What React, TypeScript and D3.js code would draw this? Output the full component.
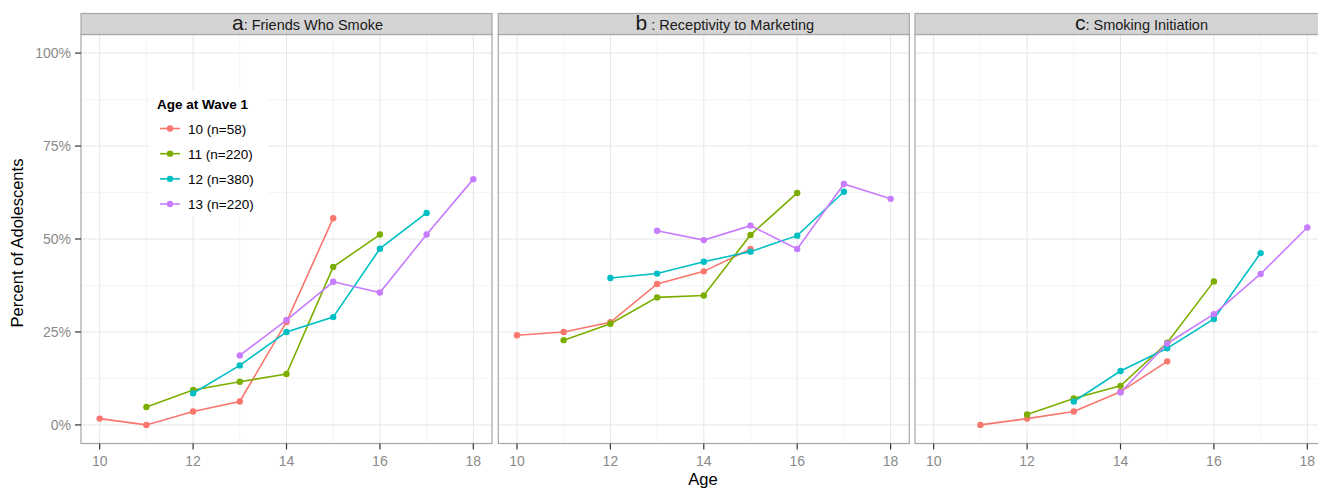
import React from 'react';
import * as d3 from 'd3';

// facet labels
const panelLetters = ['a', 'b', 'c'];
const panelTitles = [': Friends Who Smoke', ' : Receptivity to Marketing', ': Smoking Initiation'];

// legend groups
const groupLabels = ['10 (n=58)', '11 (n=220)', '12 (n=380)', '13 (n=220)'];
const groupColors = ['#F8766D', '#7CAE00', '#00BFC4', '#C77CFF'];

// first age observed for each group, per panel
const startAgesA = [10, 11, 12, 13];
const startAgesB = [10, 11, 12, 13];
const startAgesC = [11, 12, 13, 14];

// percent values
const friendsSmoke = [
    [1.7, 0, 3.6, 6.3, 27.7, 55.6],
    [4.8, 9.4, 11.6, 13.7, 42.5, 51.2],
    [8.5, 16.0, 25.0, 29.0, 47.4, 57.0],
    [18.7, 28.2, 38.5, 35.6, 51.2, 66.1],
];
const receptivity = [
    [24.1, 25.0, 27.6, 37.9, 41.3, 47.3],
    [22.8, 27.2, 34.3, 34.8, 51.1, 62.4],
    [39.5, 40.7, 43.9, 46.6, 50.9, 62.7],
    [52.2, 49.7, 53.6, 47.3, 64.8, 60.8],
];
const initiation = [
    [0, 1.7, 3.6, 8.9, 17.1],
    [2.8, 7.1, 10.5, 22.1, 38.6],
    [6.3, 14.5, 20.6, 28.5, 46.2],
    [8.7, 21.9, 29.8, 40.6, 53.1],
];

const xTicks = [10, 12, 14, 16, 18];
const xMinor = [11, 13, 15, 17];
const yTicks = [0, 25, 50, 75, 100];
const yMinor = [12.5, 37.5, 62.5, 87.5];

const panelData = [
    { values: friendsSmoke, starts: startAgesA },
    { values: receptivity, starts: startAgesB },
    { values: initiation, starts: startAgesC },
];

const width = 1318, height = 490;
const panelLefts = [81, 498.3, 915];
const panelW = 411;
const stripTop = 13.5, bodyTop = 34.5, bodyBottom = 443.5;
const font = '"Liberation Sans", Arial, Helvetica, sans-serif';
const tickGrey = '#8a8a8a';

const y = d3.scaleLinear().domain([-5, 105]).range([bodyBottom, bodyTop]);

const Panel = ({ idx }: { idx: number }) => {
    const left = panelLefts[idx];
    const x = d3.scaleLinear().domain([9.6, 18.4]).range([left, left + panelW]);
    const { values, starts } = panelData[idx];
    const series = values.map((vals, g) => vals.map((v, i) => ({ age: starts[g] + i, v })));
    const line = d3.line<{ age: number; v: number }>().x(d => x(d.age)).y(d => y(d.v));

    return (
        <g>
            <rect x={left} y={bodyTop} width={panelW} height={bodyBottom - bodyTop} fill="#fff" />
            {yMinor.map(t => (
                <line key={'ym' + t} x1={left} x2={left + panelW} y1={y(t)} y2={y(t)} stroke="#f3f3f3" strokeWidth={0.8} />
            ))}
            {xMinor.map(t => (
                <line key={'xm' + t} x1={x(t)} x2={x(t)} y1={bodyTop} y2={bodyBottom} stroke="#f3f3f3" strokeWidth={0.8} />
            ))}
            {yTicks.map(t => (
                <line key={'y' + t} x1={left} x2={left + panelW} y1={y(t)} y2={y(t)} stroke="#e6e6e6" strokeWidth={1} />
            ))}
            {xTicks.map(t => (
                <line key={'x' + t} x1={x(t)} x2={x(t)} y1={bodyTop} y2={bodyBottom} stroke="#e6e6e6" strokeWidth={1} />
            ))}
            {series.map((s, g) => (
                <path key={'l' + g} d={line(s) || ''} fill="none" stroke={groupColors[g]} strokeWidth={1.6} />
            ))}
            {series.map((s, g) =>
                s.map(d => (
                    <circle key={'p' + g + '-' + d.age} cx={x(d.age)} cy={y(d.v)} r={3.2} fill={groupColors[g]} />
                ))
            )}
            <rect x={left} y={bodyTop} width={panelW} height={bodyBottom - bodyTop} fill="none" stroke="#a6a6a6" strokeWidth={1.2} />
            <rect x={left} y={stripTop} width={panelW} height={bodyTop - stripTop} fill="#d4d4d4" stroke="#a6a6a6" strokeWidth={1.2} />
            <text x={left + panelW / 2 + 21} y={30} textAnchor="middle" fontFamily={font} fill="#1a1a1a">
                <tspan fontSize={21}>{panelLetters[idx]}</tspan>
                <tspan fontSize={14.5}>{panelTitles[idx]}</tspan>
            </text>
            {xTicks.map(t => (
                <g key={'xt' + t}>
                    <line x1={x(t)} x2={x(t)} y1={bodyBottom} y2={bodyBottom + 6} stroke="#333" strokeWidth={1.2} />
                    <text x={x(t)} y={465.5} textAnchor="middle" fontFamily={font} fontSize={14} fill={tickGrey}>{t}</text>
                </g>
            ))}
        </g>
    );
};

const Legend = () => {
    const keyX = 160, textX = 188;
    const rows = d3.scalePoint<string>().domain(groupLabels).range([128.5, 204]);
    return (
        <g>
            <rect x={150} y={90} width={118} height={126} fill="#fff" />
            <text x={157} y={109} fontFamily={font} fontSize={13.5} fontWeight="bold" fill="#000">Age at Wave 1</text>
            {groupLabels.map((lab, g) => {
                const cy = rows(lab) as number;
                return (
                    <g key={lab}>
                        <line x1={keyX} x2={keyX + 20} y1={cy} y2={cy} stroke={groupColors[g]} strokeWidth={1.6} />
                        <circle cx={keyX + 10} cy={cy} r={3.2} fill={groupColors[g]} />
                        <text x={textX} y={cy + 5} fontFamily={font} fontSize={13.5} fill="#000">{lab}</text>
                    </g>
                );
            })}
        </g>
    );
};

export default function App() {
    return (
        <svg width={width} height={height} style={{ position: 'absolute', left: 0, top: 0, background: '#fff' }}>
            <rect x={0} y={0} width={width} height={height} fill="#fff" />
            {panelLefts.map((_, i) => <Panel key={i} idx={i} />)}
            {yTicks.map(t => (
                <g key={'yt' + t}>
                    <line x1={75} x2={81} y1={y(t)} y2={y(t)} stroke="#333" strokeWidth={1.2} />
                    <text x={71} y={y(t) + 5} textAnchor="end" fontFamily={font} fontSize={14} fill={tickGrey}>{t + '%'}</text>
                </g>
            ))}
            <Legend />
            <text transform="translate(23,243) rotate(-90)" textAnchor="middle" fontFamily={font} fontSize={16.5} fill="#000">Percent of Adolescents</text>
            <text x={703} y={485} textAnchor="middle" fontFamily={font} fontSize={16.5} fill="#000">Age</text>
        </svg>
    );
}
